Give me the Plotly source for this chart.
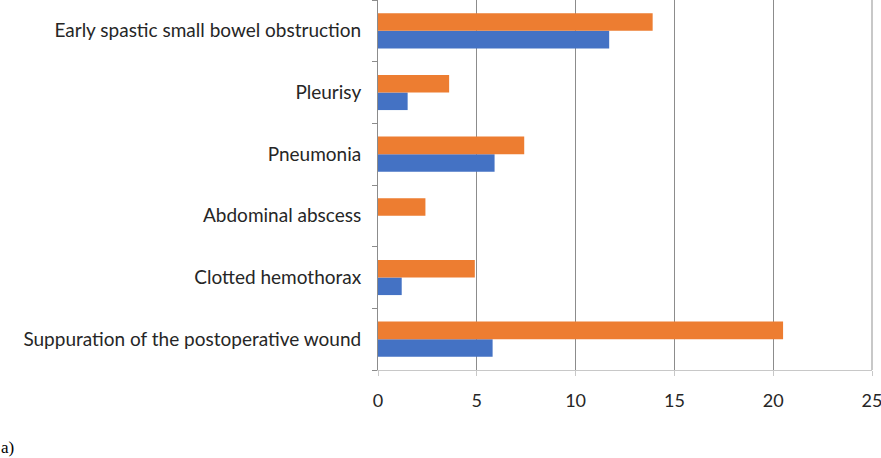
import plotly.graph_objects as go

# categories listed bottom-to-top
categories = [
    "Suppuration of the postoperative wound",
    "Clotted hemothorax",
    "Abdominal abscess",
    "Pneumonia",
    "Pleurisy",
    "Early spastic small bowel obstruction",
]
series_blue = [5.8, 1.2, 0.0, 5.9, 1.5, 11.7]
series_orange = [20.5, 4.9, 2.4, 7.4, 3.6, 13.9]
x_ticks = [0, 5, 10, 15, 20, 25]

fig = go.Figure()
fig.add_trace(go.Bar(y=categories, x=series_blue, orientation="h",
                     marker=dict(color="#4472C4", line=dict(width=0)), name="Series 1"))
fig.add_trace(go.Bar(y=categories, x=series_orange, orientation="h",
                     marker=dict(color="#ED7D31", line=dict(width=0)), name="Series 2"))

font_main = "Lato, Open Sans, sans-serif"

fig.update_layout(
    width=881, height=458,
    margin=dict(l=378, r=9, t=0, b=88),
    barmode="group", bargap=0.43, bargroupgap=0,
    showlegend=False,
    plot_bgcolor="white", paper_bgcolor="white",
    font=dict(family=font_main, size=17, color="#262626"),
    xaxis=dict(range=[0, 25], tickvals=x_ticks, showgrid=True, gridcolor="#8c8c8c",
               gridwidth=1, zeroline=False, showline=True, linecolor="#c8c8c8",
               linewidth=1, ticks="outside", ticklen=5, tickcolor="#c8c8c8",
               tickfont=dict(size=18, color="#262626"), automargin=False,
               ticklabelstandoff=9, ticklabeloverflow="allow"),
    yaxis=dict(showgrid=False, showline=True, linecolor="#8c8c8c", linewidth=1,
               ticks="outside", ticklen=5, tickcolor="#8c8c8c", tickson="boundaries",
               tickfont=dict(size=19, color="#262626"), automargin=False,
               ticklabelstandoff=12),
    shapes=[dict(type="line", xref="paper", yref="paper", x0=1, x1=1, y0=0, y1=1,
                 line=dict(color="#c8c8c8", width=2))],
    annotations=[dict(text="a)", xref="paper", yref="paper", x=-0.768, y=-0.21,
                      xanchor="left", yanchor="middle", showarrow=False,
                      font=dict(family="Liberation Serif, DejaVu Serif, serif", size=17,
                                color="#000000"))],
)

fig.write_html("out.html", config={"displayModeBar": False},
               post_script="document.body.style.margin='0';document.body.style.overflow='hidden';")
